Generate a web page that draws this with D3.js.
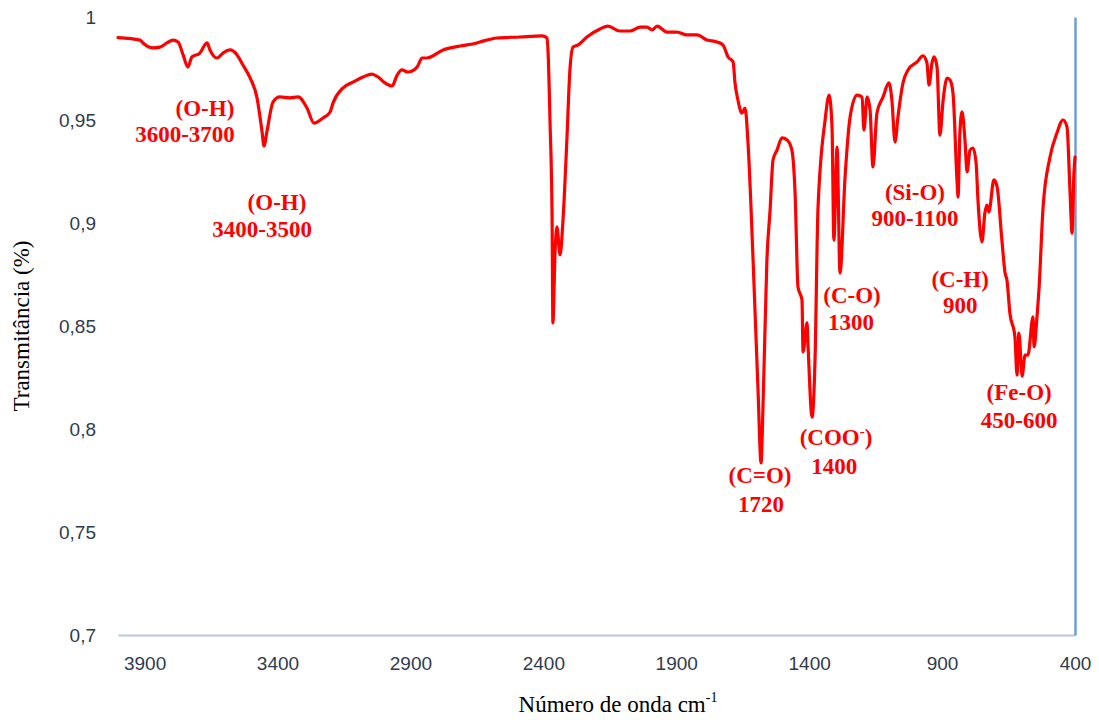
<!DOCTYPE html>
<html>
<head>
<meta charset="utf-8">
<script src="https://cdn.jsdelivr.net/npm/d3@7"></script>
<style>
  html, body { margin: 0; padding: 0; background: #ffffff; }
  svg { display: block; }
</style>
</head>
<body>
<svg id="chart" width="1099" height="720"></svg>
<script>
// ---- Data ----
const wavenumber = [
  4000, 3917, 3906, 3868, 3842, 3816, 3793, 3774, 3755, 3737, 3722, 3692, 3665, 3654, 3628, 3605,
  3579, 3552, 3530, 3503, 3477, 3458, 3451, 3440, 3417, 3391, 3353, 3323, 3289, 3263, 3229, 3202,
  3191, 3154, 3116, 3078, 3045, 3022, 2996, 2969, 2950, 2932, 2909, 2875, 2856, 2838, 2777, 2713,
  2650, 2627, 2574, 2488, 2405, 2386, 2382, 2375, 2367, 2364, 2356, 2349, 2337, 2326, 2311, 2300,
  2288, 2270, 2236, 2187, 2157, 2112, 2074, 2036, 2010, 1991, 1972, 1935, 1897, 1860, 1822, 1784,
  1747, 1724, 1705, 1686, 1679, 1668, 1653, 1641, 1630, 1611, 1592, 1581, 1574, 1559, 1547, 1536,
  1521, 1502, 1483, 1465, 1453, 1442, 1427, 1423, 1408, 1404, 1389, 1378, 1367, 1340, 1325, 1314,
  1307, 1295, 1284, 1265, 1246, 1220, 1201, 1194, 1182, 1171, 1160, 1145, 1122, 1100, 1089, 1077,
  1066, 1047, 1028, 994, 972, 957, 949, 938, 930, 919, 908, 896, 881, 870, 859, 844,
  840, 833, 825, 814, 806, 795, 784, 772, 765, 750, 739, 731, 724, 705, 693, 675,
  663, 656, 645, 626, 618, 611, 599, 588, 577, 558, 554, 543, 535, 520, 494, 468,
  445, 430, 419, 411, 404, 400
];
const transmittance = [
  0.9900, 0.9888, 0.9874, 0.9850, 0.9854, 0.9874, 0.9888, 0.9879, 0.9816, 0.9757, 0.9806, 0.9825, 0.9874, 0.9840, 0.9801, 0.9825,
  0.9840, 0.9816, 0.9767, 0.9704, 0.9607, 0.9442, 0.9374, 0.9442, 0.9587, 0.9612, 0.9607, 0.9612, 0.9558, 0.9485, 0.9510, 0.9539,
  0.9583, 0.9655, 0.9684, 0.9709, 0.9723, 0.9709, 0.9680, 0.9665, 0.9718, 0.9743, 0.9733, 0.9757, 0.9801, 0.9801, 0.9840, 0.9859,
  0.9874, 0.9883, 0.9898, 0.9903, 0.9908, 0.9898, 0.9825, 0.9500, 0.9015, 0.8515, 0.8854, 0.8981, 0.8845, 0.9015, 0.9417, 0.9743,
  0.9854, 0.9864, 0.9903, 0.9942, 0.9956, 0.9932, 0.9932, 0.9951, 0.9951, 0.9937, 0.9956, 0.9927, 0.9927, 0.9913, 0.9913, 0.9888,
  0.9879, 0.9864, 0.9806, 0.9782, 0.9680, 0.9597, 0.9534, 0.9558, 0.9388, 0.8820, 0.8175, 0.7835, 0.8092, 0.8820, 0.9063, 0.9306,
  0.9354, 0.9413, 0.9403, 0.9354, 0.9146, 0.8689, 0.8626, 0.8374, 0.8515, 0.8398, 0.8058, 0.8335, 0.9063, 0.9500, 0.9621, 0.9466,
  0.8917, 0.9369, 0.8757, 0.9223, 0.9515, 0.9621, 0.9612, 0.9451, 0.9612, 0.9549, 0.9272, 0.9534, 0.9612, 0.9680, 0.9600, 0.9393,
  0.9515, 0.9680, 0.9743, 0.9782, 0.9811, 0.9777, 0.9670, 0.9777, 0.9806, 0.9757, 0.9427, 0.9597, 0.9704, 0.9694, 0.9631, 0.9209,
  0.9126, 0.9437, 0.9539, 0.9403, 0.9248, 0.9354, 0.9364, 0.9291, 0.9112, 0.8908, 0.9049, 0.9087, 0.9053, 0.9209, 0.9175, 0.8917,
  0.8757, 0.8723, 0.8563, 0.8447, 0.8262, 0.8466, 0.8257, 0.8359, 0.8359, 0.8544, 0.8398, 0.8544, 0.8689, 0.9078, 0.9320, 0.9437,
  0.9500, 0.9466, 0.9160, 0.8951, 0.9243, 0.9320
];
const xTickValues = [3900, 3400, 2900, 2400, 1900, 1400, 900, 400];
const yTickValues = [0.7, 0.75, 0.8, 0.85, 0.9, 0.95, 1];
const yTickLabels = ["0,7", "0,75", "0,8", "0,85", "0,9", "0,95", "1"];

// Band annotations: text lines, with the spectrum coordinates where each line sits
const annotationLines = ["(O-H)", "3600-3700", "(O-H)", "3400-3500", "(C=O)", "1720", "(COO⁻)", "1400",
                         "(C-O)", "1300", "(Si-O)", "900-1100", "(C-H)", "900", "(Fe-O)", "450-600"];
const annotationWn = [3673, 3748, 3402, 3458, 1585, 1581, 1299, 1306, 1239, 1243, 1002, 1002, 832, 832, 610, 610];
const annotationT  = [0.952, 0.9393, 0.9063, 0.8932, 0.7738, 0.7597, 0.7922, 0.7782, 0.8612, 0.8481, 0.9112, 0.8985, 0.8689, 0.8563, 0.8141, 0.8005];

// ---- Layout ----
const svg = d3.select("#chart");
const plot = { left: 118, right: 1075, top: 17, bottom: 635 };

const x = d3.scaleLinear().domain([4000, 400]).range([plot.left, plot.right]);
const y = d3.scaleLinear().domain([0.7, 1]).range([plot.bottom, plot.top]);

const tickColor = "#2f3b4d";
const tickFont = "'Liberation Sans', Arial, Helvetica, sans-serif";

// X axis
const xAxis = svg.append("g")
  .attr("transform", `translate(0,${plot.bottom})`)
  .call(d3.axisBottom(x).tickValues(xTickValues).tickSize(0).tickPadding(22).tickFormat(d3.format("d")));
xAxis.select(".domain").attr("stroke", "#bcc8d7").attr("stroke-width", 2.2);
xAxis.selectAll("text").attr("font-family", tickFont).attr("font-size", 19).attr("fill", tickColor);

// Y axis (labels only, left)
const yAxis = svg.append("g")
  .attr("transform", `translate(${plot.left},0)`)
  .call(d3.axisLeft(y).tickValues(yTickValues).tickSize(0).tickPadding(22)
    .tickFormat((d, i) => yTickLabels[i]));
yAxis.select(".domain").remove();
yAxis.selectAll("text").attr("font-family", tickFont).attr("font-size", 19).attr("fill", tickColor);

// Vertical axis line on the right (axis crosses at 400 cm-1)
const yLine = svg.append("g")
  .attr("transform", `translate(${plot.right},0)`)
  .call(d3.axisRight(y).tickValues([]).tickSizeOuter(0));
yLine.select(".domain").attr("stroke", "#6f9fd6").attr("stroke-width", 2.5);

// Spectrum line
const pts = wavenumber.map((w, i) => [w, transmittance[i]]);
const line = d3.line().x(d => x(d[0])).y(d => y(d[1])).curve(d3.curveMonotoneX);
svg.append("path")
  .datum(pts)
  .attr("d", line)
  .attr("fill", "none")
  .attr("stroke", "#ff0000")
  .attr("stroke-width", 3.2)
  .attr("stroke-linejoin", "round")
  .attr("stroke-linecap", "round");

// Annotations
const ann = svg.append("g")
  .attr("font-family", "'Liberation Serif', 'Times New Roman', Times, serif")
  .attr("font-weight", "bold")
  .attr("font-size", 23)
  .attr("fill", "#ff0000")
  .attr("text-anchor", "middle");
annotationLines.forEach((t, i) => {
  const txt = ann.append("text").attr("x", x(annotationWn[i])).attr("y", y(annotationT[i]));
  if (t.includes("⁻")) {
    const parts = t.split("⁻");
    txt.append("tspan").text(parts[0]);
    txt.append("tspan").attr("font-size", 15).attr("dy", -9).text("-");
    txt.append("tspan").attr("dy", 9).text(parts[1]);
  } else {
    txt.text(t);
  }
});

// Axis titles
const serif = "'Liberation Serif', 'Times New Roman', Times, serif";
const xt = svg.append("text")
  .attr("x", 618).attr("y", 712)
  .attr("text-anchor", "middle")
  .attr("font-family", serif).attr("font-size", 23).attr("fill", "#000");
xt.append("tspan").text("Número de onda cm");
xt.append("tspan").attr("font-size", 14).attr("dy", -10).text("-1");

svg.append("text")
  .attr("transform", `translate(29,${(plot.top + plot.bottom) / 2}) rotate(-90)`)
  .attr("text-anchor", "middle")
  .attr("font-family", serif).attr("font-size", 23).attr("fill", "#000")
  .text("Transmitância (%)");
</script>
</body>
</html>
